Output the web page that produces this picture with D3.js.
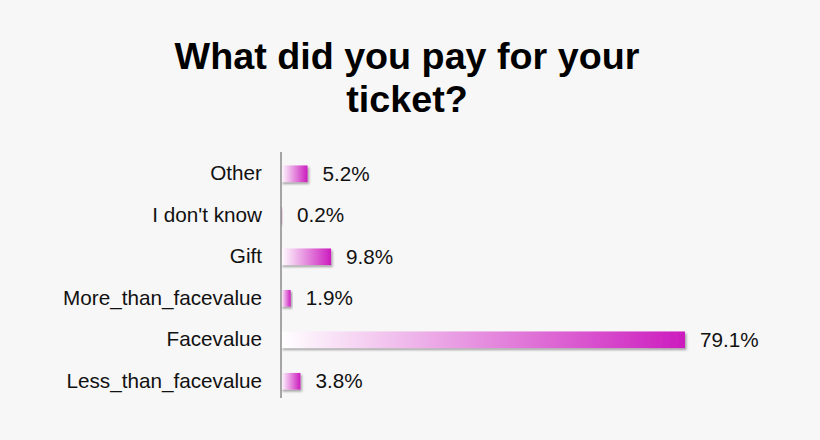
<!doctype html>
<html lang="en">
<head>
<meta charset="utf-8" />
<title>What did you pay for your ticket?</title>
<script src="https://d3js.org/d3.v7.min.js"></script>
<style>
  html, body { margin: 0; padding: 0; background: #f7f7f7; }
  svg { display: block; font-family: "Liberation Sans", Arial, sans-serif; }
</style>
</head>
<body>
<div id="chart"></div>
<script>
// data
const categories = ["Other", "I don't know", "Gift", "More_than_facevalue", "Facevalue", "Less_than_facevalue"];
const shares = [5.2, 0.2, 9.8, 1.9, 79.1, 3.8];
const titleLines = ["What did you pay for your", "ticket?"];

const W = 820, H = 440;

const svg = d3.select("#chart")
  .append("svg")
  .attr("width", W)
  .attr("height", H);

svg.append("rect").attr("width", W).attr("height", H).attr("fill", "#f7f7f7");

const defs = svg.append("defs");
const grad = defs.append("linearGradient")
  .attr("id", "barGrad")
  .attr("x1", "0").attr("y1", "0").attr("x2", "1").attr("y2", "0");
grad.append("stop").attr("offset", "0%").attr("stop-color", "#ffffff");
grad.append("stop").attr("offset", "100%").attr("stop-color", "#cc1cbe");

const shadow = defs.append("filter")
  .attr("id", "shadow")
  .attr("x", "-10%").attr("y", "-30%").attr("width", "130%").attr("height", "180%");
shadow.append("feDropShadow")
  .attr("dx", 1.5).attr("dy", 2)
  .attr("stdDeviation", 1)
  .attr("flood-color", "#000")
  .attr("flood-opacity", 0.35);

// title
svg.append("text")
  .attr("x", 407)
  .attr("y", 69)
  .attr("text-anchor", "middle")
  .style("font-size", "37.7px")
  .style("font-weight", "bold")
  .attr("fill", "#000")
  .selectAll("tspan")
  .data(titleLines)
  .enter().append("tspan")
  .attr("x", 407)
  .attr("dy", (d, i) => i === 0 ? 0 : 43)
  .text(d => d);

const x = d3.scaleLinear()
  .domain([0, 80])
  .range([281, 689.6]);

const y = d3.scaleBand()
  .domain(categories)
  .range([153, 402])
  .paddingInner(0.6)
  .paddingOuter(0.3);

const rows = categories.map((c, i) => ({ cat: c, v: shares[i] }));

// bars
svg.selectAll(".bar")
  .data(rows)
  .enter().append("rect")
  .attr("class", "bar")
  .attr("x", x(0))
  .attr("y", d => y(d.cat))
  .attr("width", d => x(d.v) - x(0))
  .attr("height", y.bandwidth())
  .attr("fill", "url(#barGrad)")
  .attr("filter", "url(#shadow)");

// category labels
const axis = svg.append("g")
  .attr("transform", `translate(${x(0)},0)`)
  .call(d3.axisLeft(y).tickSize(0).tickPadding(19));
axis.select(".domain").remove();
axis.selectAll("text")
  .style("font-size", "20.7px")
  .style("font-family", "'Liberation Sans', Arial, sans-serif")
  .attr("fill", "#111");

// vertical axis line
svg.append("line")
  .attr("x1", x(0)).attr("x2", x(0))
  .attr("y1", 152).attr("y2", 398)
  .attr("stroke", "#8a8a8a")
  .attr("stroke-width", 1.5);

// value labels
svg.selectAll(".val")
  .data(rows)
  .enter().append("text")
  .attr("class", "val")
  .attr("x", d => x(d.v) + 15)
  .attr("y", d => y(d.cat) + y.bandwidth() / 2)
  .attr("dy", "0.35em")
  .style("font-size", "20.7px")
  .attr("fill", "#111")
  .text(d => d.v.toFixed(1) + "%");
</script>
</body>
</html>
